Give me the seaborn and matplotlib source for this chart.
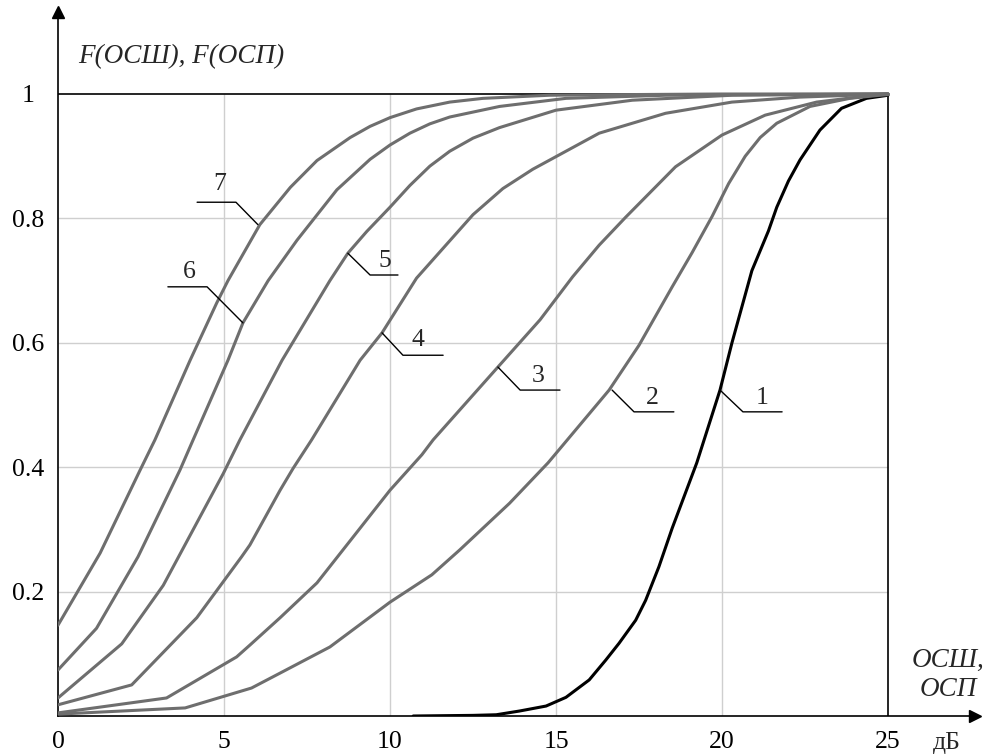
import matplotlib
matplotlib.use("Agg")
import matplotlib.pyplot as plt
import pandas as pd
import seaborn as sns

# Distribution functions F(ОСШ), F(ОСП) for curves 1..7 (x in dB)
x1 = [10.7, 12.5, 13.2, 13.9, 14.7, 15.3, 16.0, 16.5, 16.9, 17.4, 17.7, 18.1, 18.5,
      19.24, 19.94, 20.3, 20.9, 21.4, 21.65, 22.0, 22.35, 22.95, 23.6, 24.35, 25.0]
y1 = [0.0, 0.001, 0.002, 0.008, 0.016, 0.03, 0.058, 0.09, 0.117, 0.154, 0.186, 0.24, 0.302,
      0.407, 0.524, 0.60, 0.716, 0.78, 0.818, 0.86, 0.894, 0.942, 0.977, 0.993, 0.998]

x2 = [0.0, 3.83, 5.83, 6.69, 8.19, 10.0, 11.26, 12.1, 13.6, 14.76, 16.6, 17.5, 18.5,
      19.1, 19.7, 20.2, 20.7, 21.15, 21.65, 22.65, 23.85, 24.75, 25.0]
y2 = [0.003, 0.013, 0.045, 0.069, 0.111, 0.183, 0.227, 0.267, 0.342, 0.407, 0.524, 0.596, 0.69,
      0.745, 0.803, 0.856, 0.90, 0.93, 0.953, 0.98, 0.993, 0.998, 0.999]

x3 = [0.0, 3.27, 5.38, 5.78, 6.69, 7.8, 10.0, 10.96, 11.3, 13.25, 14.52, 15.5, 16.3,
      17.1, 18.6, 20.0, 21.3, 22.85, 24.4, 25.0]
y3 = [0.005, 0.029, 0.095, 0.114, 0.158, 0.214, 0.363, 0.42, 0.444, 0.561, 0.637, 0.706, 0.757,
      0.802, 0.883, 0.934, 0.966, 0.987, 0.997, 1.0]

x4 = [0.0, 2.22, 4.18, 5.53, 5.78, 6.69, 7.08, 7.64, 9.1, 9.76, 10.8, 11.8, 12.5,
      13.4, 14.3, 16.3, 18.3, 20.3, 22.35, 25.0]
y4 = [0.018, 0.05, 0.158, 0.256, 0.275, 0.363, 0.398, 0.444, 0.572, 0.616, 0.704, 0.764, 0.806,
      0.848, 0.879, 0.937, 0.969, 0.987, 0.995, 1.0]

x5 = [0.0, 1.92, 3.17, 4.98, 5.48, 6.75, 8.19, 8.73, 9.3, 10.0, 10.6, 11.2, 11.8, 12.5, 13.3,
      15.0, 17.3, 20.3, 25.0]
y5 = [0.029, 0.116, 0.21, 0.39, 0.444, 0.572, 0.70, 0.744, 0.779, 0.818, 0.853, 0.884, 0.908,
      0.929, 0.946, 0.974, 0.99, 0.998, 1.0]

x6 = [0.0, 1.16, 2.41, 3.67, 4.07, 5.12, 5.57, 6.33, 7.2, 8.4, 9.4, 10.0, 10.6, 11.2, 11.8,
      13.3, 15.3, 18.3, 21.0, 25.0]
y6 = [0.074, 0.141, 0.256, 0.395, 0.444, 0.572, 0.632, 0.70, 0.765, 0.846, 0.895, 0.918, 0.937,
      0.952, 0.963, 0.98, 0.993, 0.998, 0.999, 1.0]

x7 = [0.0, 1.27, 2.47, 2.92, 3.98, 4.78, 5.12, 6.08, 7.0, 7.8, 8.8, 9.4, 10.0, 10.8,
      11.8, 12.8, 14.8, 17.0, 20.0, 25.0]
y7 = [0.146, 0.262, 0.395, 0.444, 0.572, 0.664, 0.70, 0.79, 0.85, 0.893, 0.93, 0.948, 0.962,
      0.976, 0.987, 0.993, 0.998, 0.999, 1.0, 1.0]

curve_names = ["1", "2", "3", "4", "5", "6", "7"]
xs = [x1, x2, x3, x4, x5, x6, x7]
ys = [y1, y2, y3, y4, y5, y6, y7]

x_ticks = [0, 5, 10, 15, 20, 25]
y_ticks = [0.2, 0.4, 0.6, 0.8, 1.0]
y_tick_labels = ["0.2", "0.4", "0.6", "0.8", "1"]

frames = []
for name, xv, yv in zip(curve_names, xs, ys):
    frames.append(pd.DataFrame({"snr": xv, "F": yv, "curve": name}))
df = pd.concat(frames, ignore_index=True)

sns.set_theme(style="white")
plt.rcParams["font.family"] = ["Liberation Serif", "DejaVu Serif"]

W, H = 984, 756
fig = plt.figure(figsize=(W / 100, H / 100), dpi=100)
px_per_x = 33.2
px_per_y = 622.0
ax_left, ax_bottom, ax_w, ax_h = 58, 40, 917, 704
ax = fig.add_axes([ax_left / W, ax_bottom / H, ax_w / W, ax_h / H])
ax.set_xlim(0, ax_w / px_per_x)
ax.set_ylim(0, ax_h / px_per_y)

# grid inside the 0..25 x 0..1 box
grid_c = "#cfcfcf"
ax.vlines([5, 10, 15, 20], 0, 1, color=grid_c, lw=1.0, zorder=1)
ax.hlines([0.2, 0.4, 0.6, 0.8], 0, 25, color=grid_c, lw=1.0, zorder=1)
ax.hlines(1, 0, 25, color="black", lw=1.2, zorder=3)
ax.vlines(25, 0, 1, color="black", lw=1.2, zorder=3)

palette = {n: "#6e6e6e" for n in curve_names}
palette["1"] = "#000000"
sns.lineplot(data=df, x="snr", y="F", hue="curve", palette=palette,
             estimator=None, sort=False, lw=2.2, legend=False, ax=ax, zorder=4)

# leader lines with curve numbers
leaders = {
    "7": ([4.19, 5.36, 6.02], [0.826, 0.826, 0.79], (4.88, 0.856)),
    "6": ([3.31, 4.49, 5.57], [0.69, 0.69, 0.632], (3.95, 0.714)),
    "5": ([8.73, 9.40, 10.24], [0.744, 0.709, 0.709], (9.85, 0.732)),
    "4": ([9.76, 10.39, 11.6], [0.616, 0.580, 0.580], (10.84, 0.604)),
    "3": ([13.25, 13.92, 15.12], [0.561, 0.524, 0.524], (14.46, 0.547)),
    "2": ([16.69, 17.35, 18.55], [0.524, 0.489, 0.489], (17.89, 0.512)),
    "1": ([19.94, 20.63, 21.81], [0.524, 0.489, 0.489], (21.2, 0.512)),
}
for name, (lx, ly, (tx, ty)) in leaders.items():
    ax.plot(lx, ly, color="black", lw=1.0, zorder=5)
    ax.text(tx, ty, name, ha="center", va="center", fontsize=18.5, zorder=6)

# axes with arrows
for s in ["top", "right"]:
    ax.spines[s].set_visible(False)
for s in ["left", "bottom"]:
    ax.spines[s].set_color("black")
    ax.spines[s].set_linewidth(1.2)
ax.plot(1, 0, marker=">", ms=9, color="black", transform=ax.transAxes, clip_on=False)
ax.plot(0, 1, marker="^", ms=9, color="black", transform=ax.transAxes, clip_on=False)

ax.set_xticks(x_ticks)
ax.set_xticklabels([str(t) for t in x_ticks])
ax.set_yticks(y_ticks)
ax.set_yticklabels(y_tick_labels)
ax.tick_params(axis="both", length=0, labelsize=18.5, colors="black")
ax.tick_params(axis="x", pad=11)
ax.tick_params(axis="y", pad=21.5)
for lab in ax.get_yticklabels():
    lab.set_horizontalalignment("center")
ax.set_xlabel("")
ax.set_ylabel("")

fig.text(78 / W, 1 - 57 / H, "F(ОСШ), F(ОСП)", style="italic", ha="left", va="center",
         fontsize=19.5)
fig.text(948 / W, 1 - 660 / H, "ОСШ,", style="italic", ha="center", va="center", fontsize=19.5)
fig.text(948 / W, 1 - 690 / H, "ОСП", style="italic", ha="center", va="center", fontsize=19.5)
fig.text(947 / W, 1 - 743 / H, "дБ", ha="center", va="center", fontsize=18.5)

fig.savefig("out.png", dpi=100)
